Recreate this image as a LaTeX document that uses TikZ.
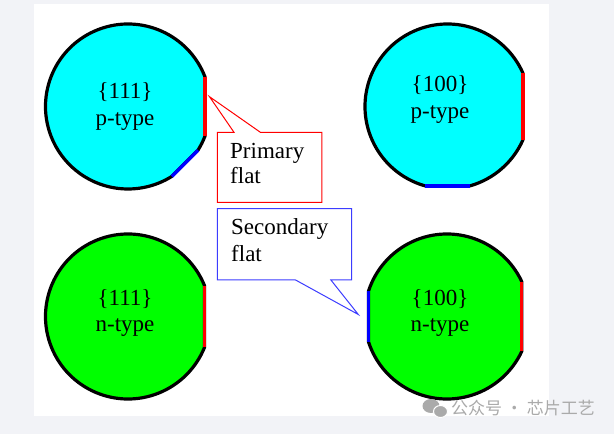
\documentclass[tikz,border=0pt]{standalone}
\usepackage{fontspec}
\setmainfont{Liberation Serif}
\newfontfamily\cjk{Noto Sans CJK SC}
\usetikzlibrary{calc}
\definecolor{bgc}{RGB}{242,243,247}
\definecolor{wcyan}{RGB}{0,255,255}
\definecolor{wgreen}{RGB}{0,255,0}
\definecolor{fred}{RGB}{255,0,0}
\definecolor{fblue}{RGB}{0,0,255}
\definecolor{cblue}{RGB}{60,60,255}
\definecolor{wm}{RGB}{170,170,170}
\begin{document}
\begin{tikzpicture}[x=1pt,y=1pt,
  wafer/.style={draw=black,line width=3.2pt,line join=round},
  flatline/.style={line width=3.4pt},
  lbl/.style={font=\fontsize{23}{26}\selectfont,anchor=base,inner sep=0pt},
  callout/.style={fill=white,line width=1pt,line join=miter},
]
\useasboundingbox (0,0) rectangle (614,434);
\fill[bgc] (0,0) rectangle (614,434);
\fill[white] (34,18) rectangle (549,430);

% wafer centres
\coordinate (c1) at (128,327.5);
\coordinate (c2) at (447.5,327.5);
\coordinate (c3) at (128,117.5);
\coordinate (c4) at (447,117.5);

% top-left {111} p-type
\filldraw[wafer,fill=wcyan] ($(c1)+(21:82.5)$) arc[start angle=21,end angle=302,radius=82.5]
  -- ($(c1)+(328:82.5)$) arc[start angle=328,end angle=339,radius=82.5] -- cycle;
\draw[flatline,fred] ($(c1)+(-21:82.5)$) -- ($(c1)+(21:82.5)$);
\draw[flatline,fblue] ($(c1)+(302:82.5)$) -- ($(c1)+(328:82.5)$);

% top-right {100} p-type
\filldraw[wafer,fill=wcyan] ($(c2)+(24:82.5)$) arc[start angle=24,end angle=254,radius=82.5]
  -- ($(c2)+(286:82.5)$) arc[start angle=286,end angle=336,radius=82.5] -- cycle;
\draw[flatline,fred] ($(c2)+(-24:82.5)$) -- ($(c2)+(24:82.5)$);
\draw[flatline,fblue] ($(c2)+(254:82.5)$) -- ($(c2)+(286:82.5)$);

% bottom-left {111} n-type
\filldraw[wafer,fill=wgreen] ($(c3)+(22:82.5)$) arc[start angle=22,end angle=338,radius=82.5] -- cycle;
\draw[flatline,fred] ($(c3)+(-22:82.5)$) -- ($(c3)+(22:82.5)$);

% bottom-right {100} n-type
\filldraw[wafer,fill=wgreen] ($(c4)+(25:82.5)$) arc[start angle=25,end angle=162,radius=82.5]
  -- ($(c4)+(198:82.5)$) arc[start angle=198,end angle=335,radius=82.5] -- cycle;
\draw[flatline,fred] ($(c4)+(-25:82.5)$) -- ($(c4)+(25:82.5)$);
\draw[flatline,fblue] ($(c4)+(162:82.5)$) -- ($(c4)+(198:82.5)$);

% labels
\node[lbl] (t1a) at (125,335) {\{111\}};
\node[lbl] (t1b) at (125,308) {p-type};
\node[lbl] (t2a) at (440,342.3) {\{100\}};
\node[lbl] (t2b) at (440,315.7) {p-type};
\node[lbl] (t3a) at (125,128) {\{111\}};
\node[lbl] (t3b) at (125,102.3) {n-type};
\node[lbl] (t4a) at (440,128) {\{100\}};
\node[lbl] (t4b) at (440,102.3) {n-type};

% primary flat callout
\filldraw[callout,draw=fred] (217.3,301.7) -- (234,301.7) -- (209.5,337.3) -- (260.4,301.7)
  -- (321.8,301.7) -- (321.8,231.7) -- (217.3,231.7) -- cycle;
\node[lbl,anchor=base west] (pf1) at (230,275) {Primary};
\node[lbl,anchor=base west] (pf2) at (230,250) {flat};

% secondary flat callout
\filldraw[callout,draw=cblue] (217.3,225.3) -- (351.6,225.3) -- (351.6,154) -- (330.9,154)
  -- (358.3,119.5) -- (295.6,154) -- (217.3,154) -- cycle;
\node[lbl,anchor=base west] (sf1) at (231,199.7) {Secondary};
\node[lbl,anchor=base west] (sf2) at (231,172.3) {flat};

% watermark
\fill[wm] (431,28) ellipse (8.5 and 7);
\filldraw[wm,draw=white,line width=1pt] (440.5,22.5) ellipse (7 and 6);
\node[font=\cjk\fontsize{17}{17}\selectfont,text=wm,anchor=west,inner sep=0pt] (wmk) at (451,26) {公众号 · 芯片工艺};
\end{tikzpicture}
\end{document}
